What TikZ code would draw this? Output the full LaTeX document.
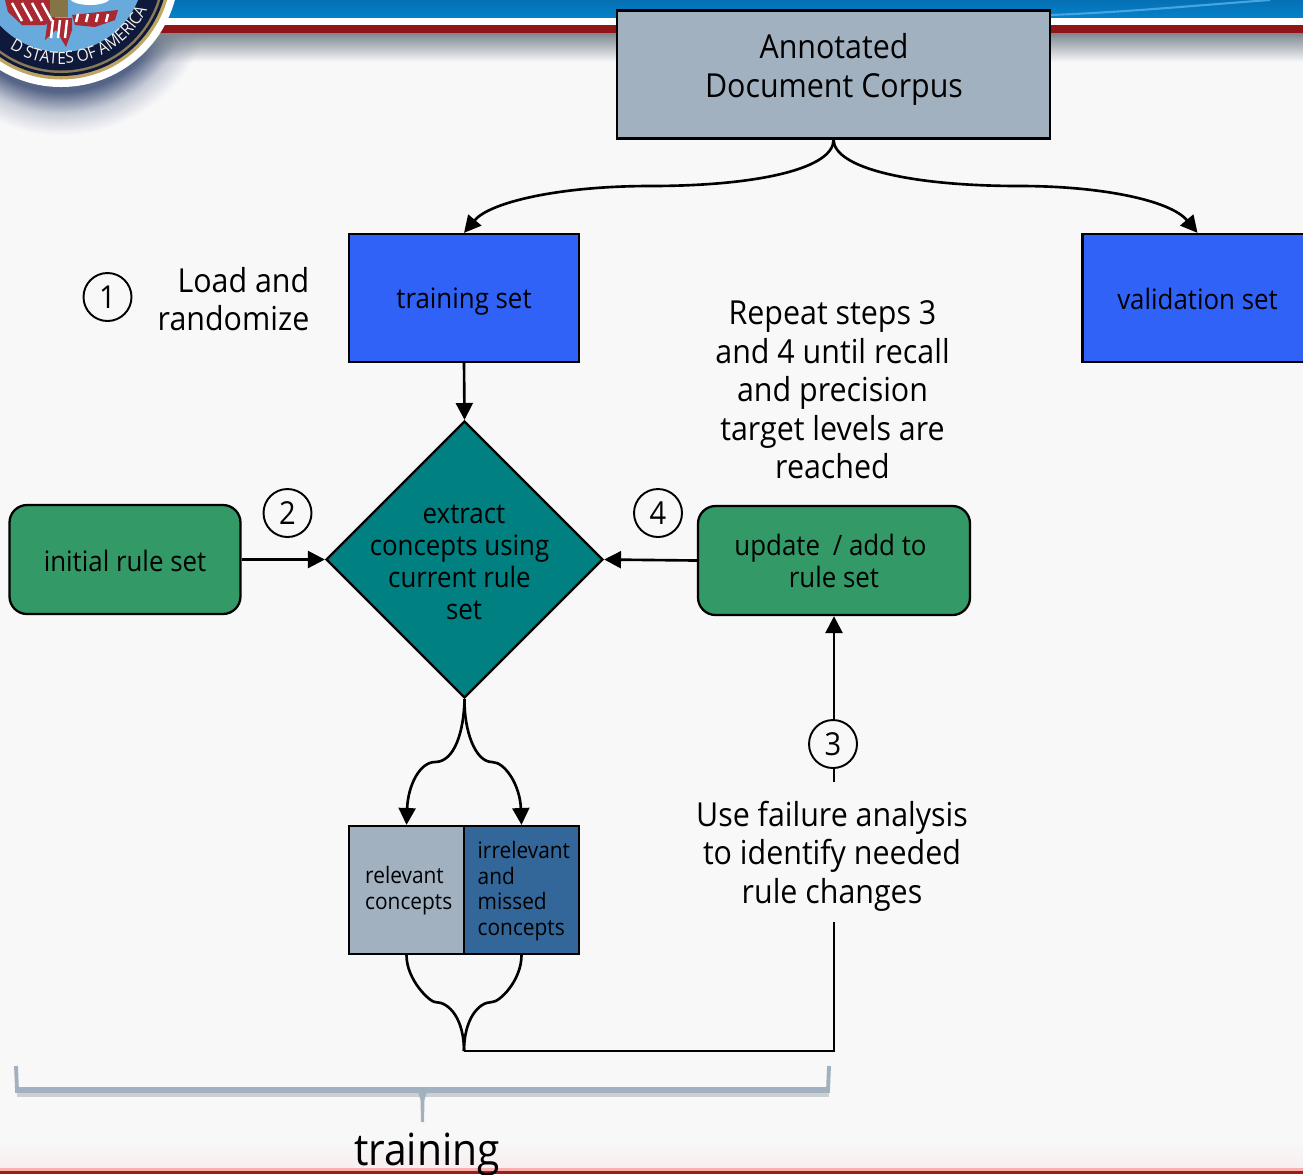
\documentclass[tikz,border=0pt]{standalone}
\usepackage{fontspec}
\setmainfont[FakeStretch=0.92]{Open Sans}
\definecolor{pagebg}{RGB}{248, 248, 249}
\definecolor{corpusgray}{RGB}{162, 177, 192}
\definecolor{setblue}{RGB}{48, 98, 248}
\definecolor{rulegreen}{RGB}{51, 153, 102}
\definecolor{teal1}{RGB}{0, 128, 128}
\definecolor{missedblue}{RGB}{51, 102, 153}
\definecolor{bandblue}{RGB}{5, 130, 200}
\definecolor{banddeep}{RGB}{5, 112, 180}
\definecolor{bandstreak}{RGB}{70, 165, 225}
\definecolor{bandred}{RGB}{145, 20, 25}
\definecolor{sealnavy}{RGB}{15, 25, 60}
\definecolor{sealgold}{RGB}{190, 165, 100}
\definecolor{sealblue}{RGB}{105, 170, 220}
\definecolor{flagred}{RGB}{170, 40, 50}
\definecolor{shadowdark}{RGB}{85, 100, 135}
\definecolor{fadegray}{RGB}{125, 135, 145}
\definecolor{braceshadow}{RGB}{205, 208, 208}
\usetikzlibrary{shapes.geometric, arrows.meta, positioning, calc, decorations.text, fadings}
\pgfdeclareradialshading{sealshadow}{\pgfpoint{0bp}{0bp}}{color(0bp)=(shadowdark); color(18bp)=(shadowdark); color(21.5bp)=(shadowdark!30!pagebg); color(25bp)=(pagebg); color(50bp)=(pagebg)}
\newcommand{\linestrut}{\rule[-1.4pt]{0pt}{9.4pt}}
\begin{document}
\begin{tikzpicture}[
  box/.style={draw, line width=0.65pt, inner sep=0pt, align=center},
  corpusbox/.style={box, fill=corpusgray, minimum width=4.33cm, minimum height=1.28cm},
  setbox/.style={box, fill=setblue, minimum width=2.3cm, minimum height=1.28cm, font=\fontsize{8}{9.1}\selectfont},
  rulebox/.style={box, fill=rulegreen, rounded corners=5pt, minimum height=1.09cm, font=\fontsize{8}{9.1}\selectfont},
  conceptbox/.style={box, minimum width=1.15cm, minimum height=1.28cm},
  small/.style={inner sep=0pt, align=left, anchor=west, font=\fontsize{6.45}{7.25}\selectfont},
  note/.style={inner sep=0pt, align=center, font=\fontsize{9.4}{10.95}\selectfont},
  stepnum/.style={draw, circle, fill=pagebg, line width=0.55pt, inner sep=0pt, minimum size=0.48cm, font=\fontsize{9}{10}\selectfont},
  link/.style={line width=0.75pt},
  arrow/.style={link, -{Triangle[length=4.8pt, width=4.8pt]}},
]
\useasboundingbox (0, 0) rectangle (13.03, -11.74);
\fill[pagebg] (0, 0) rectangle (13.03, -11.74);

% Seal shadow
\begin{scope}
\clip (0, 0) rectangle (13.03, -1.4);
\shade[shading=sealshadow] (0.61, 0.2) circle (1.55);
\end{scope}

% Header band
\fill[top color=banddeep, bottom color=bandblue] (0, 0) rectangle (13.03, -0.18);
\draw[bandstreak, line width=0.6pt] (10.5, -0.15) .. controls (11.3, -0.12) and (12, -0.05) .. (12.7, 0);
\fill[white] (0, -0.18) rectangle (13.03, -0.245);
\fill[bandred] (0, -0.245) rectangle (13.03, -0.33);
\fill[fadegray, path fading=south] (0, -0.33) rectangle (13.03, -0.62);

% Seal
\begin{scope}
\clip (0, 0) rectangle (13.03, -1.4);
\fill[white] (0.61, 0.31) circle (1.18);
\fill[sealgold] (0.61, 0.31) circle (1.105);
\fill[sealnavy] (0.61, 0.31) circle (1.07);
\fill[sealgold!70!sealnavy] (0.61, 0.31) circle (1.04);
\fill[sealnavy] (0.61, 0.31) circle (1.015);
\fill[sealblue] (0.61, 0.31) circle (0.83);
\fill[flagred] (0.05, 0) -- (0.5, 0) -- (0.55, -0.18) -- (0.45, -0.25) -- (0.22, -0.25) -- (0.08, -0.12) -- cycle;
\fill[flagred] (0.48, -0.18) -- (0.72, -0.18) -- (0.72, -0.3) -- (0.66, -0.47) -- (0.56, -0.3) -- (0.45, -0.4) -- cycle;
\fill[flagred] (0.72, -0.15) -- (1.18, -0.1) -- (1.15, -0.2) -- (0.95, -0.27) -- (0.75, -0.25) -- cycle;
\fill[white] (0.9, 0.02) ellipse (0.2 and 0.07);
\fill[sealgold!70!black] (0.5, 0) rectangle (0.68, -0.17);
\foreach \sx in {0.12, 0.22, 0.32, 0.42} {
  \draw[white, line width=0.7pt] (\sx, -0.03) -- (\sx+0.1, -0.21);
}
\foreach \sx in {0.78, 0.88, 0.98, 1.08} {
  \draw[white, line width=0.7pt] (\sx, -0.14) -- (\sx-0.02, -0.22);
}
\foreach \sx in {0.53, 0.6, 0.67} {
  \draw[white, line width=0.7pt] (\sx, -0.2) -- (\sx-0.02, -0.38);
}
\path[decorate, decoration={text along path, text align=center, text color=white!85!sealgold,
    text={|\fontsize{4.8}{5}\selectfont|D STATES OF AMERICA}}]
  (0.61, 0.31) ++(226:0.95) arc[start angle=226, end angle=346, radius=0.95];
\end{scope}

% Bottom edge
\fill[top color=pagebg, bottom color=red!4!pagebg] (0, -11.4) rectangle (13.03, -11.68);
\fill[red!30!pagebg] (0, -11.68) rectangle (13.03, -11.705);
\fill[bandred!90!orange] (0, -11.705) rectangle (13.03, -11.74);

% Boxes
\node[corpusbox] (corpus) at (8.335, -0.745) {};
\node[note] (corpustext) at (8.34, -0.695) {Annotated\\Document Corpus};
\node[setbox] (train) at (4.64, -2.98) {\linestrut training set};
\node[setbox] (valid) at (11.975, -2.98) {\linestrut validation set};
\node[rulebox, minimum width=2.31cm] (initial) at (1.25, -5.595) {\linestrut initial rule set};
\node[rulebox, minimum width=2.72cm] (update) at (8.34, -5.605) {update\hspace{0.06cm} / add to\hspace*{0.07cm}\\rule set};

\node[diamond, draw, line width=0.65pt, fill=teal1, inner sep=0pt, minimum width=2.77cm, minimum height=2.77cm] (extract) at (4.645, -5.595) {};
\node[inner sep=0pt, align=center, font=\fontsize{8}{9.1}\selectfont] (extracttext) at (4.595, -5.62)
{\hspace*{0.09cm}extract\\concepts using\\current rule\\\hspace*{0.09cm}set};

\node[conceptbox, fill=corpusgray] (relevant) at (4.065, -8.9) {};
\node[conceptbox, fill=missedblue] (missed) at (5.215, -8.9) {};
\node[small] (relevanttext) at (3.645, -8.905) {relevant\\concepts};
\node[small] (missedtext) at (4.77, -8.91) {irrelevant\\and\\missed\\concepts};

% Notes
\node[note, align=right, anchor=east] (loadnote) at (3.1, -2.99) {Load and\\randomize};
\node[note] (repeatnote) at (8.325, -3.9) {Repeat steps 3\\and 4 until recall\\and precision\\target levels are\\reached};
\node[note, minimum height=1.38cm] (failnote) at (8.32, -8.56) {Use failure analysis\\to identify needed\\rule changes};
\coordinate (join) at (4.64, -10.51);

% Connectors
\draw[arrow] (corpus.south) .. controls (8.34, -1.68) and (7.6, -1.86) .. (6.5, -1.86)
  .. controls (5.6, -1.86) and (4.9, -2.02) .. (train.north);
\draw[arrow] (corpus.south) .. controls (8.34, -1.68) and (9.1, -1.86) .. (10.2, -1.86)
  .. controls (11, -1.86) and (11.7, -2) .. (valid.north);
\draw[arrow] (train.south) -- (extract.north);
\draw[arrow] (initial.east) -- (extract.west);
\draw[arrow] (update.west) -- (extract.east);
\draw[arrow] (extract.south) .. controls (4.64, -7.3) and (4.55, -7.62) .. (4.35, -7.62)
  .. controls (4.2, -7.62) and (4.08, -7.85) .. (relevant.north);
\draw[arrow] (extract.south) .. controls (4.64, -7.3) and (4.75, -7.62) .. (4.92, -7.62)
  .. controls (5.05, -7.62) and (5.2, -7.85) .. (missed.north);
\draw[link] (relevant.south) .. controls (4.065, -9.8) and (4.3, -10.02) .. (4.35, -10.02)
  .. controls (4.5, -10.02) and (4.64, -10.2) .. (join);
\draw[link] (missed.south) .. controls (5.215, -9.8) and (5.0, -10.02) .. (4.92, -10.02)
  .. controls (4.78, -10.02) and (4.64, -10.2) .. (join);
\draw[link] ([yshift=0.04cm]failnote.south -| update.south) |- (join);
\draw[arrow] ([yshift=0.04cm]failnote.north -| update.south) -- (update.south);

% Step numbers
\node[stepnum] (stepa) at (1.075, -2.97) {1};
\node[stepnum] (stepb) at (2.875, -5.13) {2};
\node[stepnum] (stepc) at (8.33, -7.44) {3};
\node[stepnum] (stepd) at (6.58, -5.13) {4};

% Training brace
\draw[braceshadow, line width=1.3pt] (0.17, -10.95) -- (8.29, -10.95);
\draw[corpusgray, line width=1.1pt] (0.16, -10.66) -- (0.17, -10.9);
\draw[corpusgray, line width=1.1pt] (8.29, -10.66) -- (8.28, -10.9);
\draw[corpusgray, line width=1.6pt] (0.15, -10.9) -- (8.3, -10.9);
\fill[corpusgray] (4.17, -10.88) -- (4.28, -10.88) -- (4.245, -11.0) -- (4.24, -11.22) -- (4.21, -11.22) -- (4.205, -11.0) -- cycle;
\node[inner sep=0pt, font=\fontsize{12.6}{13}\selectfont] (trainlabel) at (4.27, -11.55) {training};
\end{tikzpicture}
\end{document}
